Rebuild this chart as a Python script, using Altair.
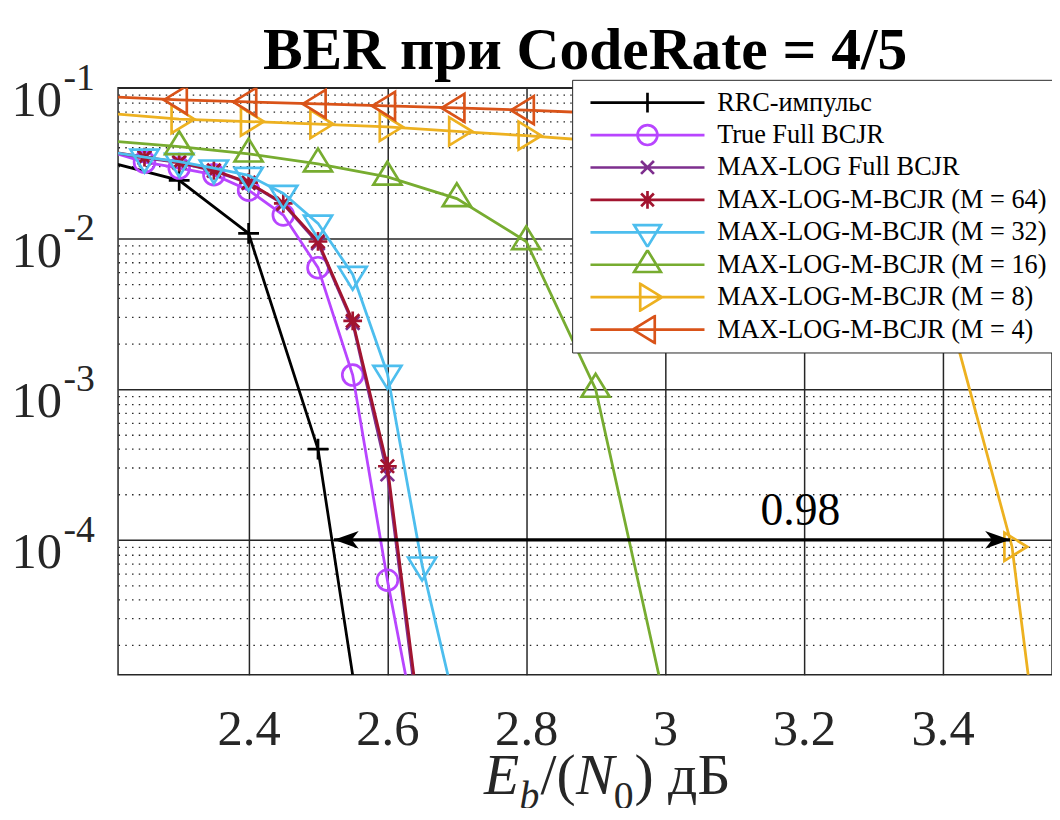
import altair as alt
import pandas as pd

FONT = "Liberation Serif"

# ---------------- data ----------------
series_names = [
    "RRC-импульс",
    "True Full BCJR",
    "MAX-LOG Full BCJR",
    "MAX-LOG-M-BCJR (M = 64)",
    "MAX-LOG-M-BCJR (M = 32)",
    "MAX-LOG-M-BCJR (M = 16)",
    "MAX-LOG-M-BCJR (M = 8)",
    "MAX-LOG-M-BCJR (M = 4)",
]
series_colors = ["#000000", "#B845FF", "#7E2F8E", "#A2142F",
                 "#4DBEEE", "#77AC30", "#EDB120", "#D95319"]

rrc_x = [2.2, 2.3, 2.4, 2.5, 2.6]
rrc_ber = [3.20e-2, 2.43e-2, 1.08e-2, 4.0e-4, 4.0e-7]

full_x = [2.2, 2.25, 2.3, 2.35, 2.4, 2.45, 2.5, 2.55, 2.6, 2.65]
true_full_ber = [3.77e-2, 3.21e-2, 2.93e-2, 2.65e-2, 2.09e-2, 1.43e-2, 6.4e-3, 1.24e-3, 5.4e-5, 3.4e-6]
maxlog_full_ber = [3.75e-2, 3.42e-2, 3.18e-2, 2.81e-2, 2.33e-2, 1.69e-2, 9.3e-3, 2.75e-3, 2.72e-4, 4.0e-6]
m64_ber = [3.78e-2, 3.46e-2, 3.21e-2, 2.83e-2, 2.35e-2, 1.71e-2, 9.55e-3, 2.84e-3, 3.08e-4, 4.7e-6]

m32_x = [2.2, 2.25, 2.3, 2.35, 2.4, 2.45, 2.5, 2.55, 2.6, 2.65, 2.7]
m32_ber = [3.75e-2, 3.46e-2, 3.24e-2, 2.93e-2, 2.62e-2, 1.99e-2, 1.26e-2, 5.77e-3, 1.27e-3, 6.8e-5, 7.1e-6]

m16_x = [2.2, 2.3, 2.4, 2.5, 2.6, 2.7, 2.8, 2.9, 3.0]
m16_ber = [4.44e-2, 4.07e-2, 3.64e-2, 3.13e-2, 2.56e-2, 1.84e-2, 9.55e-3, 1.0e-3, 8.3e-6]

m8_x = [2.2, 2.3, 2.4, 2.5, 2.6, 2.7, 2.8, 2.9, 3.0, 3.1, 3.2, 3.3, 3.4, 3.5, 3.6]
m8_ber = [6.75e-2, 6.19e-2, 5.97e-2, 5.74e-2, 5.51e-2, 5.14e-2, 4.81e-2, 4.45e-2,
          4.05e-2, 3.5e-2, 2.7e-2, 1.6e-2, 4.6e-3, 9.0e-5, 2.0e-8]

m4_x = [2.2, 2.3, 2.4, 2.5, 2.6, 2.7, 2.8, 2.9, 3.0, 3.1, 3.2, 3.3, 3.4, 3.5, 3.6]
m4_ber = [8.72e-2, 8.30e-2, 8.05e-2, 7.81e-2, 7.57e-2, 7.35e-2, 7.10e-2, 6.8e-2,
          6.5e-2, 6.1e-2, 5.6e-2, 4.9e-2, 4.0e-2, 3.0e-2, 2.0e-2]

series_x = [rrc_x, full_x, full_x, full_x, m32_x, m16_x, m8_x, m4_x]
series_y = [rrc_ber, true_full_ber, maxlog_full_ber, m64_ber, m32_ber, m16_ber, m8_ber, m4_ber]

# annotation (double arrow and gap value)
arrow_x_start = [2.523]
arrow_x_end = [3.497]
arrow_y = [1e-4]
gap_label = ["0.98"]
gap_label_x = [3.195]
gap_label_y = [1.55e-4]

# axes
x_tick_values = [2.4, 2.6, 2.8, 3.0, 3.2, 3.4]
y_major_values = [1e-4, 1e-3, 1e-2, 1e-1]
y_major_base = "10"
y_major_exponents = ["-4", "-3", "-2", "-1"]

chart_title = "BER при CodeRate = 4/5"

XMIN, XMAX = 2.2119, 3.5576
YMIN, YMAX = 1.274e-5, 0.1
W, H = 942, 592

rows = []
for name, xs, ys in zip(series_names, series_x, series_y):
    for xv, yv in zip(xs, ys):
        rows.append({"series": name, "x": xv, "y": yv})
df = pd.DataFrame(rows)

# ---------------- marker shapes ----------------
marker_paths = [
    "M-1,0H1M0,-1V1",                                              # +
    "M-1,0A1,1 0 1,0 1,0A1,1 0 1,0 -1,0",                          # o
    "M-0.65,-0.65L0.65,0.65M-0.65,0.65L0.65,-0.65",                # x
    "M-0.9,0H0.9M0,-0.9V0.9M-0.64,-0.64L0.64,0.64M-0.64,0.64L0.64,-0.64",  # *
    "M-1.35,-0.733L1.35,-0.733L0,1.467Z",                          # v
    "M-1.35,0.733L1.35,0.733L0,-1.467Z",                           # ^
    "M-0.733,-1.35L-0.733,1.35L1.467,0Z",                          # >
    "M0.733,-1.35L0.733,1.35L-1.467,0Z",                           # <
]
legend_paths = ["M-5.75,0H5.75" + p for p in marker_paths]

major_test = "abs(log(datum.value)/LN10 - round(log(datum.value)/LN10)) < 1e-6"
y_grid_values = [m * 10.0 ** e for e in range(-5, -1) for m in range(1, 10)] + [0.1]
y_grid_values = [v for v in y_grid_values if YMIN <= v <= YMAX * 1.0000001]

x_axis = alt.Axis(
    values=x_tick_values, format="~f", grid=True, gridColor="#262626",
    gridWidth=1.5, gridOpacity=1, ticks=False, tickSize=0, domain=False,
    labelFont=FONT, labelFontSize=51, labelColor="#262626",
    labelPadding=70, labelBaseline="alphabetic", labelFlush=False,
    labelOverlap=False, title=None,
)
y_axis = alt.Axis(
    values=y_grid_values,
    labelExpr=f"{major_test} ? '{y_major_base}' : ''",
    grid=True,
    gridDash={"condition": {"test": major_test, "value": []}, "value": [1.5, 5.3]},
    gridWidth={"condition": {"test": major_test, "value": 1.5}, "value": 1.3},
    gridColor="#262626", gridOpacity=1, ticks=False, tickSize=0, domain=False,
    labelFont=FONT, labelFontSize=51, labelColor="#262626", labelPadding=57,
    labelAlign="right", labelBaseline="alphabetic", labelOffset=28,
    labelOverlap=False, labelFlush=False, labelBound=False, title=None,
)

x_scale = alt.Scale(domain=[XMIN, XMAX], nice=False, zero=False)
y_scale = alt.Scale(type="log", domain=[YMIN, YMAX], nice=False)

X = alt.X("x:Q", scale=x_scale, axis=x_axis)
Y = alt.Y("y:Q", scale=y_scale, axis=y_axis)

base = alt.Chart(df)
layers = []
for i, name in enumerate(series_names):
    sel = base.transform_filter(alt.datum.series == name)
    layers.append(
        sel.mark_line(color=series_colors[i], strokeWidth=2.8, clip=True)
        .encode(x=X, y=Y, order="x:Q")
    )
    layers.append(
        sel.transform_filter(f"datum.x >= {XMIN}")
        .mark_point(shape=marker_paths[i], size=440, filled=False,
                    stroke=series_colors[i], strokeWidth=2.7, opacity=1, clip=True)
        .encode(x=X, y=Y)
    )

legend = alt.Legend(
    title=None, orient="none", legendX=458, legendY=-8, direction="vertical",
    fillColor="white", strokeColor="#262626", padding=8, cornerRadius=0,
    symbolSize=400, symbolStrokeWidth=2.7, symbolOffset=54.75, labelOffset=57,
    labelFont=FONT, labelFontSize=26.5, labelColor="black", labelLimit=0,
    clipHeight=30, rowPadding=2.7,
)
legend_layer = (
    base.transform_filter("datum.x < 0")
    .mark_point(filled=False, strokeWidth=2.7, opacity=1, clip=True)
    .encode(
        x=X, y=Y,
        color=alt.Color("series:N", scale=alt.Scale(domain=series_names, range=series_colors), legend=legend),
        shape=alt.Shape("series:N", scale=alt.Scale(domain=series_names, range=legend_paths), legend=legend),
    )
)
layers.append(legend_layer)

# superscript exponents of the y tick labels (10^-k)
sup_df = pd.DataFrame({"y": y_major_values, "t": y_major_exponents})
layers.append(
    alt.Chart(sup_df).mark_text(font=FONT, fontSize=38, color="#262626",
                                align="left", baseline="alphabetic", dy=2)
    .encode(x=alt.value(-55), y=Y, text="t:N")
)

# double arrow
arrow_df = pd.DataFrame({"x": arrow_x_start, "x2": arrow_x_end, "y": arrow_y})
layers.append(
    alt.Chart(arrow_df).mark_rule(color="black", strokeWidth=3.2)
    .encode(x=X, x2="x2:Q", y=Y)
)
head_df = pd.DataFrame({"x": arrow_x_start + arrow_x_end, "y": arrow_y * 2,
                        "dir": ["left", "right"]})
layers.append(
    alt.Chart(head_df).transform_filter(alt.datum.dir == "left")
    .mark_point(shape="M0,0L2.5,-0.9L1.8,0L2.5,0.9Z", size=400, filled=True,
                fill="black", strokeWidth=0, opacity=1)
    .encode(x=X, y=Y)
)
layers.append(
    alt.Chart(head_df).transform_filter(alt.datum.dir == "right")
    .mark_point(shape="M0,0L-2.5,-0.9L-1.8,0L-2.5,0.9Z", size=400, filled=True,
                fill="black", strokeWidth=0, opacity=1)
    .encode(x=X, y=Y)
)
gap_df = pd.DataFrame({"x": gap_label_x, "y": gap_label_y, "t": gap_label})
layers.append(
    alt.Chart(gap_df).mark_text(font=FONT, fontSize=46, color="black",
                                align="center", baseline="middle")
    .encode(x=X, y=Y, text="t:N")
)

# chart title
layers.append(
    alt.Chart(pd.DataFrame({"t": [chart_title]})).mark_text(
        font=FONT, fontSize=60, fontWeight="bold", color="black",
        align="center", baseline="alphabetic")
    .encode(x=alt.value(W / 2), y=alt.value(-19), text="t:N")
)

# x-axis title  E_b/(N_0) дБ  (built from pieces)
title_pieces = [
    # text, x, y, size, style
    ("E", 369, 712, 58, "italic"),
    ("b", 405, 727, 40, "italic"),
    ("/(", 426, 712, 58, "normal"),
    ("N", 462, 712, 58, "italic"),
    ("0", 500, 727, 40, "normal"),
    (") дБ", 521, 712, 58, "normal"),
]
for t, px, py, fs, st in title_pieces:
    layers.append(
        alt.Chart(pd.DataFrame({"t": [t]})).mark_text(
            font=FONT, fontSize=fs, fontStyle=st, color="#262626",
            align="left", baseline="alphabetic")
        .encode(x=alt.value(px), y=alt.value(py), text="t:N")
    )

chart = (
    alt.layer(*layers)
    .properties(
        width=W, height=H,
        autosize=alt.AutoSizeParams(type="none"),
        padding={"left": 111, "top": 77, "right": 0, "bottom": 131},
    )
    .configure_view(stroke="#262626", strokeWidth=1.5)
)

chart.save("out.html", embed_options={"renderer": "svg", "actions": False})
